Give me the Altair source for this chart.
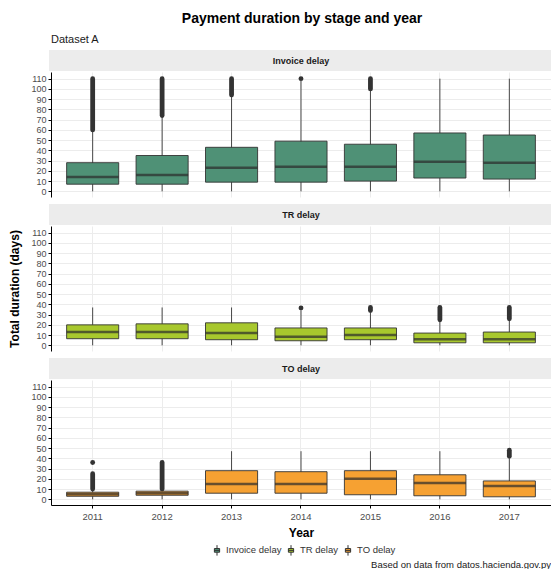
import altair as alt
import pandas as pd

years = ["2011", "2012", "2013", "2014", "2015", "2016", "2017"]
stages = ["Invoice delay", "TR delay", "TO delay"]
colors = ["#4f9176", "#a8c82d", "#f6a132"]
y_ticks = [0, 10, 20, 30, 40, 50, 60, 70, 80, 90, 100, 110]

# box statistics per stage (days)
inv_q1 = [7, 7, 9, 9, 10, 13, 12]
inv_med = [14, 16, 23, 24, 24, 29, 28]
inv_q3 = [28, 35, 43, 49, 46, 57, 55]
inv_wlo = [0, 0, 0, 0, 0, 0, 0]
inv_whi = [58, 73, 92, 108, 98, 110, 110]

tr_q1 = [6.5, 6.5, 5.5, 4.5, 5.5, 2.5, 2.5]
tr_med = [13, 13, 12, 8.5, 10, 6, 6]
tr_q3 = [20, 21, 22, 17, 17, 12, 13]
tr_wlo = [0, 0, 0, 0, 0, 0, 0]
tr_whi = [37, 37, 37, 34, 32, 24, 25]

to_q1 = [3, 4, 6, 6, 4.5, 3.5, 2.5]
to_med = [5, 6, 15, 15, 20, 16, 13]
to_q3 = [7, 8, 28, 27, 28, 24, 18]
to_wlo = [0, 0, 0, 0, 0, 0, 0]
to_whi = [9, 10, 47, 47, 47, 47, 40]

# dense runs of outliers (drawn as a continuous column of dots)
run_stage = ["Invoice delay", "Invoice delay", "Invoice delay", "Invoice delay",
             "TR delay", "TR delay", "TR delay",
             "TO delay", "TO delay", "TO delay"]
run_year = ["2011", "2012", "2013", "2015",
            "2015", "2016", "2017",
            "2011", "2012", "2017"]
run_lo = [60, 74, 94, 100, 34, 25, 26, 10, 10, 42]
run_hi = [110, 110, 110, 110, 37, 37, 37, 25, 36, 48]

# isolated outliers
single_stage = ["Invoice delay", "TR delay", "TO delay"]
single_year = ["2014", "2014", "2011"]
single_val = [110, 36.5, 36]

stats = pd.DataFrame({
    "stage": [s for s in stages for _ in years],
    "year": years * 3,
    "q1": inv_q1 + tr_q1 + to_q1,
    "med": inv_med + tr_med + to_med,
    "q3": inv_q3 + tr_q3 + to_q3,
    "wlo": inv_wlo + tr_wlo + to_wlo,
    "whi": inv_whi + tr_whi + to_whi,
})
runs = pd.DataFrame({"stage": run_stage, "year": run_year, "lo": run_lo, "hi": run_hi})
singles = pd.DataFrame({"stage": single_stage, "year": single_year, "v": single_val})

W = 500
H = 125
FONT = "Liberation Sans"
box_path = ("M-0.5,-0.35L0.5,-0.35L0.5,0.35L-0.5,0.35Z"
            "M0,-0.35L0,-1M0,0.35L0,1M-0.5,0L0.5,0")

xscale = alt.Scale(type="band", domain=years, paddingInner=0.25, paddingOuter=0.225)
yscale = alt.Scale(domain=[-5.5, 116.5], nice=False, zero=False)
cscale = alt.Scale(domain=stages, range=colors)


def panel(stage, idx):
    bottom = idx == 2
    if bottom:
        xaxis = alt.Axis(title="Year", labelFontSize=9.5, labelColor="#4d4d4d",
                         tickColor="black", domainColor="black", tickSize=3,
                         labelPadding=3, titleFontSize=12, titleFontWeight="bold",
                         titleColor="black", titlePadding=7, labelAngle=0,
                         grid=True, gridColor="#ececec", bandPosition=0.5)
    else:
        xaxis = alt.Axis(title=None, labels=False, ticks=False, domain=False,
                         grid=True, gridColor="#ececec", bandPosition=0.5)
    yaxis = alt.Axis(values=y_ticks, title="Total duration (days)" if idx == 1 else None,
                     labelFontSize=9, labelColor="#4d4d4d", tickColor="black",
                     domainColor="black", tickSize=3, labelPadding=2,
                     labelOverlap=False, labelFlush=False,
                     titleFontSize=12, titleFontWeight="bold", titleColor="black",
                     titlePadding=9, grid=True, gridColor="#ececec")
    x = alt.X("year:N", scale=xscale, axis=xaxis)

    def Y(f):
        return alt.Y(f, scale=yscale, axis=yaxis)

    sdf = alt.Chart(stats).transform_filter(alt.datum.stage == stage)
    whisk = sdf.mark_rule(color="#333333", strokeWidth=0.9).encode(
        x=x, y=Y("wlo:Q"), y2="whi:Q")
    box = sdf.mark_bar(stroke="#333333", strokeWidth=0.9, opacity=1).encode(
        x=x, y=Y("q1:Q"), y2="q3:Q",
        color=alt.Color("stage:N", scale=cscale,
                        legend=alt.Legend(title=None, orient="none", direction="horizontal",
                                          legendX=160, legendY=472,
                                          symbolType=box_path, symbolSize=110,
                                          symbolStrokeColor="#333333", symbolStrokeWidth=1,
                                          labelFontSize=9.5, labelColor="#333333",
                                          columnPadding=3, labelOffset=3)))
    med = sdf.mark_tick(color="#2b2b2b", thickness=2.5, size=52).encode(
        x=x, y=Y("med:Q"))
    orun = alt.Chart(runs).transform_filter(alt.datum.stage == stage).mark_rule(
        color="#333333", strokeWidth=4.8, strokeCap="round").encode(
        x=x, y=Y("lo:Q"), y2="hi:Q")
    osing = alt.Chart(singles).transform_filter(alt.datum.stage == stage).mark_circle(
        color="#333333", size=24, opacity=1).encode(x=x, y=Y("v:Q"))

    sdata = pd.DataFrame({"stage": [stage]})
    strip = alt.Chart(sdata).mark_rect(color="#ececec").encode(
        x=alt.value(-2), x2=alt.value(W), y=alt.value(-22), y2=alt.value(-1))
    stext = alt.Chart(sdata).mark_text(fontSize=9, fontWeight="bold", color="#1a1a1a",
                                       font=FONT).encode(
        x=alt.value(W / 2), y=alt.value(-11), text="stage:N")

    layer = alt.layer(whisk, strip, stext, orun, osing, box, med).properties(width=W, height=H)
    if idx == 0:
        layer = layer.properties(title=alt.TitleParams(
            "Dataset A", anchor="start", frame="group", fontSize=11, fontWeight="normal",
            color="#1a1a1a", offset=5, font=FONT))
    if bottom:
        layer = layer.properties(title=alt.TitleParams(
            "Based on data from datos.hacienda.gov.py", orient="bottom", anchor="end",
            fontSize=9.5, fontWeight="normal", color="#1a1a1a", offset=21, font=FONT))
    return layer


chart = alt.vconcat(*[panel(s, i) for i, s in enumerate(stages)], spacing=7).properties(
    title=alt.TitleParams("Payment duration by stage and year", anchor="middle",
                          fontSize=14, fontWeight="bold", color="black", dx=22,
                          offset=8, font=FONT),
    padding={"left": 0, "top": 4, "right": 0, "bottom": 0},
).resolve_scale(color="shared").configure(font=FONT).configure_view(stroke=None)

chart.save("out.html", embed_options={"renderer": "svg", "actions": False})
